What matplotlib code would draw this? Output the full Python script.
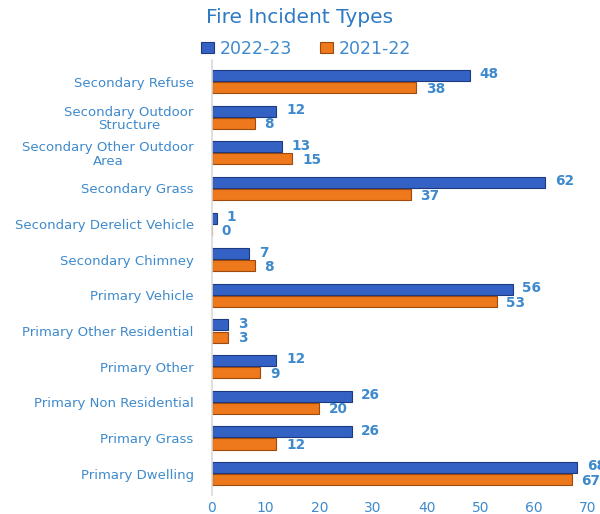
import matplotlib
matplotlib.use("Agg")
import matplotlib.pyplot as plt
import numpy as np

categories = ["Secondary Refuse", "Secondary Outdoor\nStructure", "Secondary Other Outdoor\nArea",
              "Secondary Grass", "Secondary Derelict Vehicle", "Secondary Chimney",
              "Primary Vehicle", "Primary Other Residential", "Primary Other",
              "Primary Non Residential", "Primary Grass", "Primary Dwelling"]
values_2223 = [48, 12, 13, 62, 1, 7, 56, 3, 12, 26, 26, 68]
values_2122 = [38, 8, 15, 37, 0, 8, 53, 3, 9, 20, 12, 67]
series_names = ["2022-23", "2021-22"]
xticks = [0, 10, 20, 30, 40, 50, 60, 70]

text_blue = "#3E8ACC"
blue = "#3462C4"
blue_edge = "#1C3A80"
orange = "#EE781C"
orange_edge = "#9C4A10"

fig = plt.figure(figsize=(6.0, 5.14), dpi=100)
ax = fig.add_axes([0.353, 0.037, 0.627, 0.846])

n = len(categories)
y = np.arange(n)
h = 0.31
gap = 0.03
yb = y - (h + gap) / 2
yo = y + (h + gap) / 2

ax.barh(yb, values_2223, height=h, color=blue, edgecolor=blue_edge, linewidth=0.8, label=series_names[0])
ax.barh(yo, values_2122, height=h, color=orange, edgecolor=orange_edge, linewidth=0.8, label=series_names[1])

for yy, v in zip(yb, values_2223):
    ax.annotate(str(v), (v, yy), xytext=(7, 0.8), textcoords="offset points",
                va="center", ha="left", color=text_blue, fontsize=9.8, fontweight="bold",
                annotation_clip=False)
for yy, v in zip(yo, values_2122):
    ax.annotate(str(v), (v, yy), xytext=(7, -0.8), textcoords="offset points",
                va="center", ha="left", color=text_blue, fontsize=9.8, fontweight="bold",
                annotation_clip=False)

ax.set_ylim(n - 0.4, -0.6)
ax.set_xlim(0, 70)
ax.set_yticks(y)
ax.set_yticklabels(categories, color=text_blue, fontsize=9.5, linespacing=1.05)
for lab in ax.get_yticklabels():
    lab.set_multialignment("center")
ax.set_xticks(xticks)
ax.set_xticklabels([str(t) for t in xticks], color=text_blue, fontsize=10)
ax.tick_params(axis="y", length=0, pad=13)
ax.tick_params(axis="x", length=0, pad=4)
for s in ["top", "right", "bottom"]:
    ax.spines[s].set_visible(False)
ax.spines["left"].set_color("#D9D9D9")
ax.spines["left"].set_linewidth(1.2)

fig.text(0.50, 0.965, "Fire Incident Types", ha="center", va="center",
         color="#2E7BC4", fontsize=14.5)
leg = fig.legend(loc="center", bbox_to_anchor=(0.51, 0.905), ncol=2, frameon=False,
                 fontsize=12.5, handlelength=0.75, handleheight=0.55, columnspacing=1.6, handletextpad=0.35)
for t in leg.get_texts():
    t.set_color(text_blue)

fig.savefig("out.png", dpi=100)
